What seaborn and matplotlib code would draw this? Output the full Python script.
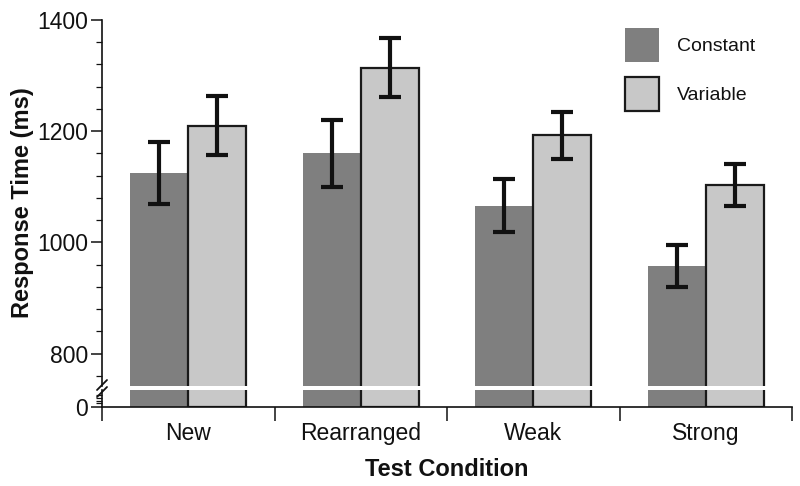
import numpy as np
import pandas as pd
import matplotlib
matplotlib.use("Agg")
import matplotlib.pyplot as plt
from matplotlib.patches import Patch
from matplotlib.ticker import MultipleLocator, FixedLocator
import seaborn as sns

# data
conditions = ["New", "Rearranged", "Weak", "Strong"]
groups = ["Constant", "Variable"]
constant_rt = [1125, 1160, 1066, 958]
variable_rt = [1210, 1314, 1193, 1104]
constant_err = [56, 60, 48, 38]
variable_err = [53, 53, 42, 38]

colors = {"Constant": "#7f7f7f", "Variable": "#c8c8c8"}

df = pd.DataFrame({
    "condition": conditions * 2,
    "group": ["Constant"] * 4 + ["Variable"] * 4,
    "rt": constant_rt + variable_rt,
})

sns.set_style("ticks", {"text.color": "#111111", "axes.labelcolor": "#111111",
                        "xtick.color": "#111111", "ytick.color": "#111111",
                        "axes.edgecolor": "#111111"})
plt.rcParams["font.family"] = ["Liberation Sans", "DejaVu Sans"]

fig = plt.figure(figsize=(8, 4.86), dpi=100)
left, right = 102 / 800, 792 / 800
ax_top = fig.add_axes([left, 1 - 386 / 486, right - left, (386 - 20) / 486])
ax_bot = fig.add_axes([left, 1 - 407 / 486, right - left, (407 - 390) / 486])

for ax in (ax_top, ax_bot):
    sns.barplot(data=df, x="condition", y="rt", hue="group", order=conditions,
                hue_order=groups, palette=colors, width=0.672, errorbar=None,
                saturation=1, legend=False, ax=ax)
    for bar in ax.containers[0]:
        bar.set_linewidth(0)
    for bar in ax.containers[1]:
        bar.set_edgecolor("#1a1a1a")
        bar.set_linewidth(1.6)
    ax.set_xlim(-0.5, 3.5)
    ax.set_xlabel("")
    ax.set_ylabel("")
    for s in ("top", "right"):
        ax.spines[s].set_visible(False)
    ax.spines["left"].set_linewidth(1.2)
    ax.spines["bottom"].set_linewidth(1.2)

# error bars placed at the bar centres
bar_sets = list(ax_top.containers)
for cont, errs in zip(bar_sets, [constant_err, variable_err]):
    xs = [b.get_x() + b.get_width() / 2 for b in cont]
    ys = [b.get_height() for b in cont]
    ax_top.errorbar(xs, ys, yerr=errs, fmt="none", ecolor="#111111",
                    elinewidth=3, capsize=8, capthick=3, zorder=5)

ax_top.set_ylim(742, 1400)
ax_top.spines["bottom"].set_visible(False)
ax_top.tick_params(axis="x", bottom=False, labelbottom=False)
ax_top.yaxis.set_major_locator(FixedLocator([800, 1000, 1200, 1400]))
ax_top.yaxis.set_minor_locator(MultipleLocator(40))
ax_top.tick_params(axis="y", which="major", length=8, width=1.1,
                   labelsize=16.5, pad=2)
ax_top.tick_params(axis="y", which="minor", length=4, width=0.9)
ax_top.set_ylabel("Response Time (ms)", fontsize=17, fontweight="bold",
                  labelpad=2)

ax_bot.set_ylim(0, 48)
ax_bot.yaxis.set_major_locator(FixedLocator([0]))
ax_bot.yaxis.set_minor_locator(FixedLocator([10, 18, 26, 34]))
ax_bot.tick_params(axis="y", which="major", length=8, width=1.1,
                   labelsize=16.5, pad=2)
ax_bot.tick_params(axis="y", which="minor", length=4, width=0.9)
ax_bot.xaxis.set_major_locator(FixedLocator(range(4)))
ax_bot.xaxis.set_minor_locator(FixedLocator([-0.5, 0.5, 1.5, 2.5, 3.5]))
ax_bot.tick_params(axis="x", which="major", length=0, labelsize=16.5, pad=11)
ax_bot.tick_params(axis="x", which="minor", length=10, width=1.1)
ax_bot.set_xlabel("Test Condition", fontsize=17, fontweight="bold",
                  labelpad=9)

# break marks on the y axis
for yy in (385, 392):
    fig.add_artist(plt.Line2D([97 / 800, 107 / 800],
                              [1 - (yy + 5) / 486, 1 - (yy - 5) / 486],
                              color="#111111", lw=1.3))

handles = [Patch(facecolor=colors["Constant"], edgecolor="none"),
           Patch(facecolor=colors["Variable"], edgecolor="#1a1a1a", linewidth=1.6)]
fig.legend(handles, groups, loc="upper left",
           bbox_to_anchor=(607 / 800, 1 - 11 / 486),
           frameon=False, fontsize=14, handlelength=1.75, handleheight=2.3,
           handletextpad=0.95, labelspacing=0.75)

fig.savefig("out.png", dpi=100)
